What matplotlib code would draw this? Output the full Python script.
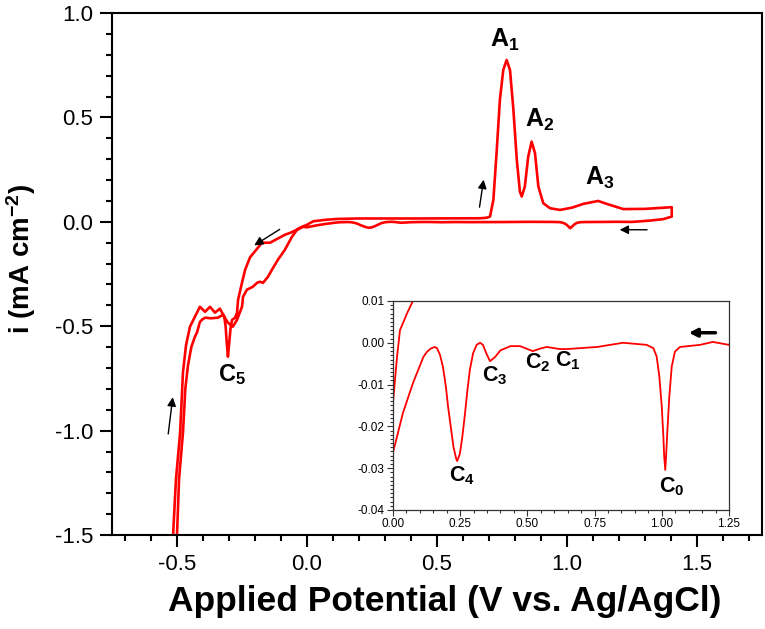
import matplotlib
matplotlib.use('Agg')
import matplotlib.pyplot as plt
from matplotlib.ticker import MultipleLocator, FormatStrFormatter

plt.rcParams['font.family'] = ['Liberation Sans', 'DejaVu Sans']
plt.rcParams['mathtext.fontset'] = 'custom'
plt.rcParams['mathtext.rm'] = 'Liberation Sans'
plt.rcParams['mathtext.bf'] = 'Liberation Sans:bold'
plt.rcParams['mathtext.default'] = 'bf'
plt.rcParams['axes.unicode_minus'] = False

# barrido anódico (de -0.5 V hacia 1.4 V)
fwd_v = [-0.500, -0.492, -0.477, -0.468, -0.458, -0.445, -0.431, -0.423, -0.412,
         -0.404, -0.392, -0.370, -0.350, -0.342, -0.323, -0.304, -0.285, -0.269,
         -0.250, -0.246, -0.231, -0.208, -0.192, -0.181, -0.169, -0.150, -0.135,
         -0.112, -0.085, -0.058, -0.038, -0.027, -0.015, 0.000, 0.015, 0.026,
         0.052, 0.074, 0.12, 0.20, 0.40, 0.60, 0.66, 0.678, 0.692, 0.704, 0.717,
         0.730, 0.742, 0.755, 0.768, 0.781, 0.794, 0.807, 0.819, 0.826, 0.838,
         0.851, 0.864, 0.877, 0.890, 0.909, 0.935, 0.973, 1.02, 1.063, 1.12,
         1.153, 1.217, 1.30, 1.403]
fwd_i = [-1.50, -1.23, -1.01, -0.80, -0.69, -0.60, -0.55, -0.53, -0.48,
         -0.469, -0.459, -0.462, -0.460, -0.459, -0.445, -0.483, -0.502, -0.469,
         -0.407, -0.359, -0.325, -0.311, -0.292, -0.287, -0.292, -0.263, -0.230,
         -0.182, -0.134, -0.072, -0.038, -0.029, -0.022, -0.0144, -0.0034, 0.003,
         0.007, 0.010, 0.014, 0.016, 0.016, 0.017, 0.017, 0.018, 0.020, 0.025, 0.105,
         0.344, 0.584, 0.727, 0.775, 0.727, 0.536, 0.297, 0.145, 0.121, 0.169,
         0.312, 0.384, 0.329, 0.169, 0.089, 0.065, 0.057, 0.068, 0.086, 0.100,
         0.086, 0.061, 0.062, 0.070]

# barrido catódico (de 1.4 V hacia -0.5 V)
rev_v = [1.403, 1.371, 1.32, 1.25, 1.19, 1.142, 1.068, 1.049, 1.037, 1.028,
         1.021, 1.016, 1.013, 1.009, 1.006, 1.000, 0.991, 0.981, 0.969, 0.944,
         0.856, 0.76, 0.647, 0.62, 0.572, 0.547, 0.52, 0.473, 0.437, 0.40, 0.38,
         0.361, 0.347, 0.335, 0.324, 0.311, 0.298, 0.286, 0.277, 0.268, 0.258,
         0.249, 0.239, 0.235, 0.225, 0.215, 0.205, 0.197, 0.186, 0.175, 0.164,
         0.155, 0.140, 0.126, 0.113, 0.074, 0.037, 0.000,
         -0.015, -0.065, -0.085, -0.142, -0.173, -0.219, -0.238, -0.250, -0.265,
         -0.269, -0.277, -0.288, -0.294, -0.300, -0.304, -0.308, -0.313, -0.318,
         -0.335, -0.354, -0.373, -0.392, -0.412, -0.450, -0.465, -0.477, -0.488,
         -0.504, -0.515]
rev_i = [0.025, 0.013, 0.006, -0.0005, 0.0002, -0.0005, -0.001, -0.0021, -0.0057,
         -0.0129, -0.0209, -0.0272, -0.0304, -0.0272, -0.0225, -0.0153, -0.0081,
         -0.0033, -0.0013, -0.0005, 0.0, -0.001, -0.0015, -0.0015, -0.001,
         -0.0014, -0.002, -0.0008, -0.0008, -0.0018, -0.0034, -0.0044, -0.0025,
         -0.0005, 0.0, -0.0005, -0.0025, -0.0065, -0.0113, -0.0169, -0.0225,
         -0.0265, -0.0283, -0.0277, -0.0249, -0.0201, -0.0153, -0.0106, -0.0058,
         -0.0029, -0.0013, -0.001, -0.0014, -0.0022, -0.0034, -0.0097, -0.0168,
         -0.0263,
         -0.024, -0.053, -0.062, -0.100, -0.100, -0.170, -0.230, -0.292, -0.373,
         -0.435, -0.460, -0.469, -0.510, -0.590, -0.646, -0.590, -0.500, -0.455,
         -0.416, -0.435, -0.407, -0.431, -0.407, -0.502, -0.589, -0.720, -1.010,
         -1.234, -1.500]

v_todo = fwd_v + rev_v
i_todo = fwd_i + rev_i

fig = plt.figure(figsize=(7.65, 6.29), dpi=100)
ax = fig.add_axes([0.1464, 0.1494, 0.8496, 0.8299])
ax.plot(v_todo, i_todo, color='#FF0000', linewidth=1.9, solid_joinstyle='round')

ax.set_xlim(-0.75, 1.75)
ax.set_ylim(-1.5, 1.0)
ax.xaxis.set_major_locator(MultipleLocator(0.5))
ax.xaxis.set_minor_locator(MultipleLocator(0.1))
ax.yaxis.set_major_locator(MultipleLocator(0.5))
ax.yaxis.set_minor_locator(MultipleLocator(0.1))
ax.xaxis.set_major_formatter(FormatStrFormatter('%.1f'))
ax.yaxis.set_major_formatter(FormatStrFormatter('%.1f'))
ax.tick_params(which='both', direction='out', width=1.5, labelsize=16)
ax.tick_params(which='major', length=8.5, pad=5)
ax.tick_params(which='minor', length=4.5)
for s in ax.spines.values():
    s.set_linewidth(1.5)

ax.set_xlabel('Applied Potential (V vs. Ag/AgCl)', fontsize=25.5, fontweight='bold')
ax.xaxis.set_label_coords(0.512, -0.095)
ax.set_ylabel('i (mA cm$^{-2}$)', fontsize=20, fontweight='bold')
ax.yaxis.set_label_coords(-0.114, 0.529)

# etiquetas de picos
ax.text(0.762, 0.871, 'A$_1$', fontsize=18, fontweight='bold', ha='center', va='center')
ax.text(0.896, 0.488, 'A$_2$', fontsize=18, fontweight='bold', ha='center', va='center')
ax.text(1.127, 0.21, 'A$_3$', fontsize=18, fontweight='bold', ha='center', va='center')
ax.text(-0.288, -0.73, 'C$_5$', fontsize=17, fontweight='bold', ha='center', va='center')

# flechas de dirección de barrido
flecha = dict(arrowstyle='-|>', color='black', lw=1, mutation_scale=13)
ax.annotate('', xy=(-0.515, -0.827), xytext=(-0.535, -1.029), arrowprops=flecha)
ax.annotate('', xy=(-0.212, -0.12), xytext=(-0.096, -0.029), arrowprops=flecha)
ax.annotate('', xy=(0.681, 0.215), xytext=(0.662, 0.057), arrowprops=flecha)
ax.annotate('', xy=(1.192, -0.038), xytext=(1.319, -0.038), arrowprops=flecha)

# inserto con detalle del barrido catódico
axi = fig.add_axes([0.5137, 0.1892, 0.4392, 0.3323])
axi.plot(v_todo, i_todo, color='#FF0000', linewidth=1.3, solid_joinstyle='round')
axi.set_xlim(0, 1.25)
axi.set_ylim(-0.04, 0.01)
axi.xaxis.set_major_locator(MultipleLocator(0.25))
axi.xaxis.set_minor_locator(MultipleLocator(0.05))
axi.yaxis.set_major_locator(MultipleLocator(0.01))
axi.yaxis.set_minor_locator(MultipleLocator(0.001))
axi.xaxis.set_major_formatter(FormatStrFormatter('%.2f'))
axi.yaxis.set_major_formatter(FormatStrFormatter('%.2f'))
axi.tick_params(which='both', direction='out', width=0.8, labelsize=8.5, pad=2, color='#333333')
axi.tick_params(which='major', length=4)
axi.tick_params(which='minor', length=2)
for s in axi.spines.values():
    s.set_linewidth(0.9)
    s.set_color('#333333')

axi.text(0.257, -0.0317, 'C$_4$', fontsize=15.5, fontweight='bold', ha='center', va='center')
axi.text(1.038, -0.0345, 'C$_0$', fontsize=15.5, fontweight='bold', ha='center', va='center')
axi.text(0.38, -0.0079, 'C$_3$', fontsize=15.5, fontweight='bold', ha='center', va='center')
axi.text(0.54, -0.0048, 'C$_2$', fontsize=15.5, fontweight='bold', ha='center', va='center')
axi.text(0.65, -0.0044, 'C$_1$', fontsize=15.5, fontweight='bold', ha='center', va='center')
axi.annotate('', xy=(1.09, 0.0024), xytext=(1.21, 0.0024),
             arrowprops=dict(arrowstyle='-|>', color='black', lw=2.5, mutation_scale=12))

plt.savefig('out.png', dpi=100)
plt.close()
